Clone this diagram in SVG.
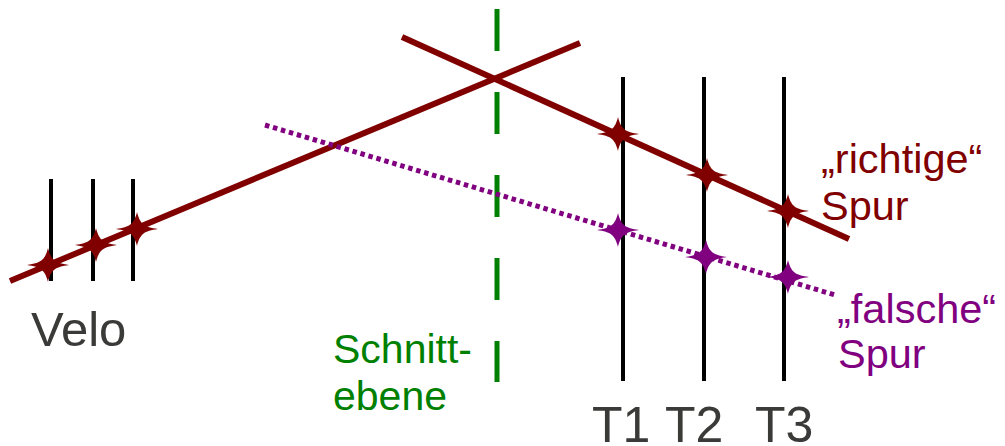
<svg xmlns="http://www.w3.org/2000/svg" xmlns:xlink="http://www.w3.org/1999/xlink" width="1005" height="446" viewBox="0 0 1005 446">
<defs>
<style>
.det{stroke:#000;stroke-width:4;fill:none}
.red{stroke:#800000;stroke-width:6;fill:none;stroke-linecap:butt}
.pur{stroke:#800080;stroke-width:5;fill:none;stroke-dasharray:4.5 3.8}
.grn{stroke:#008000;stroke-width:5;fill:none;stroke-dasharray:42 41}
.lbl{font-family:"Liberation Sans",Arial,sans-serif}
.gray{fill:#3a3a38}
.tr{fill:#800000}
.tp{fill:#800080}
.tg{fill:#008000}
</style>
<path id="star" d="M-21,0 C-7,-2 -3,-5 0,-17 C3,-5 7,-2 21,0 C7,2 3,5 0,17 C-3,5 -7,2 -21,0Z"/>
</defs>
<rect width="1005" height="446" fill="#fff"/>
<g id="velo-detectors">
<line class="det" x1="51" y1="179" x2="51" y2="281"/>
<line class="det" x1="93" y1="179" x2="93" y2="281"/>
<line class="det" x1="133" y1="179" x2="133" y2="281"/>
</g>
<g id="t-detectors">
<line class="det" x1="623" y1="77" x2="623" y2="381"/>
<line class="det" x1="704" y1="77" x2="704" y2="381"/>
<line class="det" x1="784" y1="77" x2="784" y2="381"/>
</g>
<g id="schnittebene-line">
<line class="grn" x1="497" y1="9" x2="497" y2="382"/>
</g>
<g id="connectors">
<line class="red" x1="10" y1="281" x2="580" y2="43"/>
<line class="red" x1="402" y1="37" x2="849" y2="239"/>
<line class="pur" x1="265" y1="125" x2="835" y2="295"/>
</g>
<g id="hits-red" fill="#800000">
<use xlink:href="#star" x="48" y="265"/>
<use xlink:href="#star" x="96" y="245"/>
<use xlink:href="#star" x="137" y="229"/>
<use xlink:href="#star" x="618" y="134"/>
<use xlink:href="#star" x="707" y="175"/>
<use xlink:href="#star" x="788" y="211"/>
</g>
<g id="hits-purple" fill="#800080">
<use xlink:href="#star" x="618" y="230"/>
<use xlink:href="#star" x="706" y="257"/>
<use xlink:href="#star" x="788" y="277"/>
</g>
<g id="label-velo"><text class="lbl gray" x="31" y="346" font-size="49">Velo</text></g>
<g id="label-schnitt"><text class="lbl tg" x="333" y="363" font-size="41">Schnitt-</text><text class="lbl tg" x="333" y="410" font-size="41">ebene</text></g>
<g id="label-t1"><text class="lbl gray" x="592" y="442" font-size="50">T1</text></g>
<g id="label-t2"><text class="lbl gray" x="665" y="442" font-size="50">T2</text></g>
<g id="label-t3"><text class="lbl gray" x="755" y="442" font-size="50">T3</text></g>
<g id="label-richtig"><text class="lbl tr" x="821" y="173" font-size="41.5">„richtige“</text><text class="lbl tr" x="821" y="220" font-size="41.5">Spur</text></g>
<g id="label-falsch"><text class="lbl tp" x="837" y="323" font-size="41.5">„falsche“</text><text class="lbl tp" x="838" y="368" font-size="41.5">Spur</text></g>
</svg>
